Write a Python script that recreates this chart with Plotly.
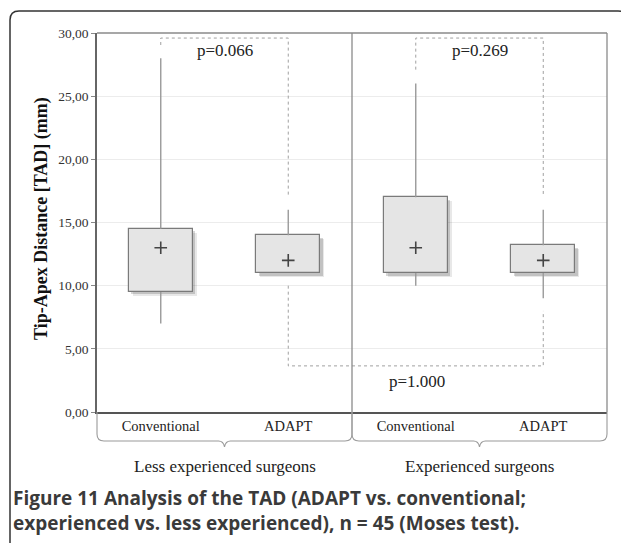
import plotly.graph_objects as go

# ---- data ----
categories = ["Conventional", "ADAPT", "Conventional", "ADAPT"]
groups = ["Less experienced surgeons", "Experienced surgeons"]
q1 = [9.5, 11.0, 11.0, 11.0]
q3 = [14.5, 14.0, 17.0, 13.2]
mins = [7.0, 11.0, 10.0, 9.0]
maxs = [28.0, 16.0, 26.0, 16.0]
means = [13.0, 12.0, 13.0, 12.0]
y_ticks = [0, 5, 10, 15, 20, 25, 30]
y_ticklabels = ["0,00", "5,00", "10,00", "15,00", "20,00", "25,00", "30,00"]
# comparisons
cmp_left = [0, 2, 1]
cmp_right = [1, 3, 3]
cmp_left_end = [29.05, 27.1, 10.0]
cmp_right_end = [17.0, 17.2, 8.0]
cmp_level = [29.6, 29.6, 3.65]
cmp_labels = ["p=0.066", "p=0.269", "p=1.000"]
cmp_label_x = [0.5, 2.5, 2.01]
cmp_label_y = [28.6, 28.6, 2.4]

# page body has an 8px margin
OFF = 8
W, H = 629 - OFF, 543 - OFF
L, R, T, B = 97, 607, 33, 412   # plot area in page pixels


def px(x):
    return (x - L) / (R - L)


def py(y):
    return (B - y) / (B - T)


pos = list(range(len(categories)))
serif = "Liberation Serif"

fig = go.Figure()

# shadows
for dx, dy, a in [(4, 4, 0.09), (2.5, 2.5, 0.16)]:
    fig.add_trace(go.Bar(
        x=pos, y=[b - a_ for a_, b in zip(q1, q3)], base=[v - dy / 12.63 for v in q1],
        width=0.5, offset=-0.25 + dx / 127.5,
        marker=dict(color=f"rgba(0,0,0,{a})", line=dict(width=0)),
        hoverinfo="skip", showlegend=False))

# whiskers
wx, wy = [], []
for i in pos:
    wx += [i, i, None, i, i, None]
    wy += [q3[i], maxs[i], None, mins[i], q1[i], None]
fig.add_trace(go.Scatter(x=wx, y=wy, mode="lines",
                         line=dict(color="#9a9a9a", width=1.4),
                         hoverinfo="skip", showlegend=False))

# boxes
fig.add_trace(go.Bar(
    x=pos, y=[b - a for a, b in zip(q1, q3)], base=q1, width=0.5,
    marker=dict(color="#e5e5e5", line=dict(color="#7a7a7a", width=1.2)),
    showlegend=False))

# means
fig.add_trace(go.Scatter(x=pos, y=means, mode="markers",
                         marker=dict(symbol="cross-thin", size=9,
                                     line=dict(color="#444", width=1.6)),
                         showlegend=False))

# comparison brackets
for li, ri, le, re, lv, lab, lx, ly in zip(cmp_left, cmp_right, cmp_left_end,
                                            cmp_right_end, cmp_level, cmp_labels,
                                            cmp_label_x, cmp_label_y):
    fig.add_trace(go.Scatter(x=[li, li, ri, ri], y=[le, lv, lv, re], mode="lines",
                             line=dict(color="#a0a0a0", width=1, dash="dot"),
                             hoverinfo="skip", showlegend=False))
    fig.add_annotation(x=lx, y=ly, text=lab, showarrow=False,
                       font=dict(family=serif, size=17, color="#222"))

shapes = []
shapes.append(dict(type="line", xref="paper", yref="paper", x0=0, x1=1, y0=1, y1=1,
                   line=dict(color="#8a8a8a", width=1.3)))
shapes.append(dict(type="line", xref="paper", yref="paper", x0=1, x1=1, y0=0, y1=1,
                   line=dict(color="#8a8a8a", width=1.3)))
shapes.append(dict(type="line", xref="x", yref="paper", x0=1.5, x1=1.5, y0=0, y1=1,
                   line=dict(color="#8a8a8a", width=1.3)))

# braces under the groups
for g in range(len(groups)):
    xl, xr = L + g * (R - L) / 2, L + (g + 1) * (R - L) / 2
    xc = (xl + xr) / 2
    yb, yr = 441, 434
    path = (f"M {px(xl)},{py(B)} L {px(xl)},{py(yr)} "
            f"Q {px(xl)},{py(yb)} {px(xl + 7)},{py(yb)} "
            f"L {px(xc - 6)},{py(yb)} Q {px(xc - 1)},{py(yb)} {px(xc)},{py(447)} "
            f"Q {px(xc + 1)},{py(yb)} {px(xc + 6)},{py(yb)} "
            f"L {px(xr - 7)},{py(yb)} Q {px(xr)},{py(yb)} {px(xr)},{py(yr)} L {px(xr)},{py(B)}")
    shapes.append(dict(type="path", xref="paper", yref="paper", path=path,
                       line=dict(color="#9a9a9a", width=1.1)))
    fig.add_annotation(xref="paper", yref="paper", x=px(xc), y=py(466), text=groups[g],
                       showarrow=False, xanchor="center", yanchor="middle",
                       font=dict(family=serif, size=17, color="#222"))

# y-axis title
fig.add_annotation(xref="paper", yref="paper", x=px(41), y=py(219),
                   text="<b>Tip-Apex Distance [TAD] (mm)</b>", textangle=-90,
                   showarrow=False, xanchor="center", yanchor="middle",
                   font=dict(family=serif, size=18, color="#111"))

# outer rounded border
r = 9
x0b, x1b, y0b, y1b = 10, 627, 11, 560
border = (f"M {px(x0b)},{py(y1b)} L {px(x0b)},{py(y0b + r)} "
          f"Q {px(x0b)},{py(y0b)} {px(x0b + r)},{py(y0b)} "
          f"L {px(x1b - r)},{py(y0b)} Q {px(x1b)},{py(y0b)} {px(x1b)},{py(y0b + r)} "
          f"L {px(x1b)},{py(y1b)}")
shapes.append(dict(type="path", xref="paper", yref="paper", path=border,
                   line=dict(color="#333", width=1.5)))

# caption
fig.add_annotation(xref="paper", yref="paper", x=px(11), y=py(498), xanchor="left",
                   yanchor="middle", showarrow=False,
                   text="<b>Figure 11 Analysis of the TAD (ADAPT vs. conventional;</b>",
                   font=dict(family="Open Sans", size=19, color="#3a3a3a"))
fig.add_annotation(xref="paper", yref="paper", x=px(11), y=py(523), xanchor="left",
                   yanchor="middle", showarrow=False,
                   text="<b>experienced vs. less experienced), n = 45 (Moses test).</b>",
                   font=dict(family="Open Sans", size=19, color="#3a3a3a"))

fig.update_layout(
    width=W, height=H,
    margin=dict(l=L - OFF, r=W - (R - OFF), t=T - OFF, b=H - (B - OFF), pad=0,
                autoexpand=False),
    paper_bgcolor="white", plot_bgcolor="white",
    barmode="overlay", bargap=0,
    shapes=shapes,
    xaxis=dict(range=[-0.5, 3.5], tickvals=pos, ticktext=categories,
               showgrid=False, zeroline=False, showline=True,
               linecolor="#555", linewidth=2, ticks="", ticklen=0,
               tickfont=dict(family=serif, size=14.5, color="#222")),
    yaxis=dict(range=[0, 30], tickvals=y_ticks, ticktext=y_ticklabels,
               showgrid=True, gridcolor="#ececec", gridwidth=1, zeroline=False,
               showline=True, linecolor="#666", linewidth=1.5,
               ticks="outside", ticklen=4, tickcolor="#888",
               tickfont=dict(family=serif, size=13.5, color="#333")),
)

fig.write_html("out.html")
